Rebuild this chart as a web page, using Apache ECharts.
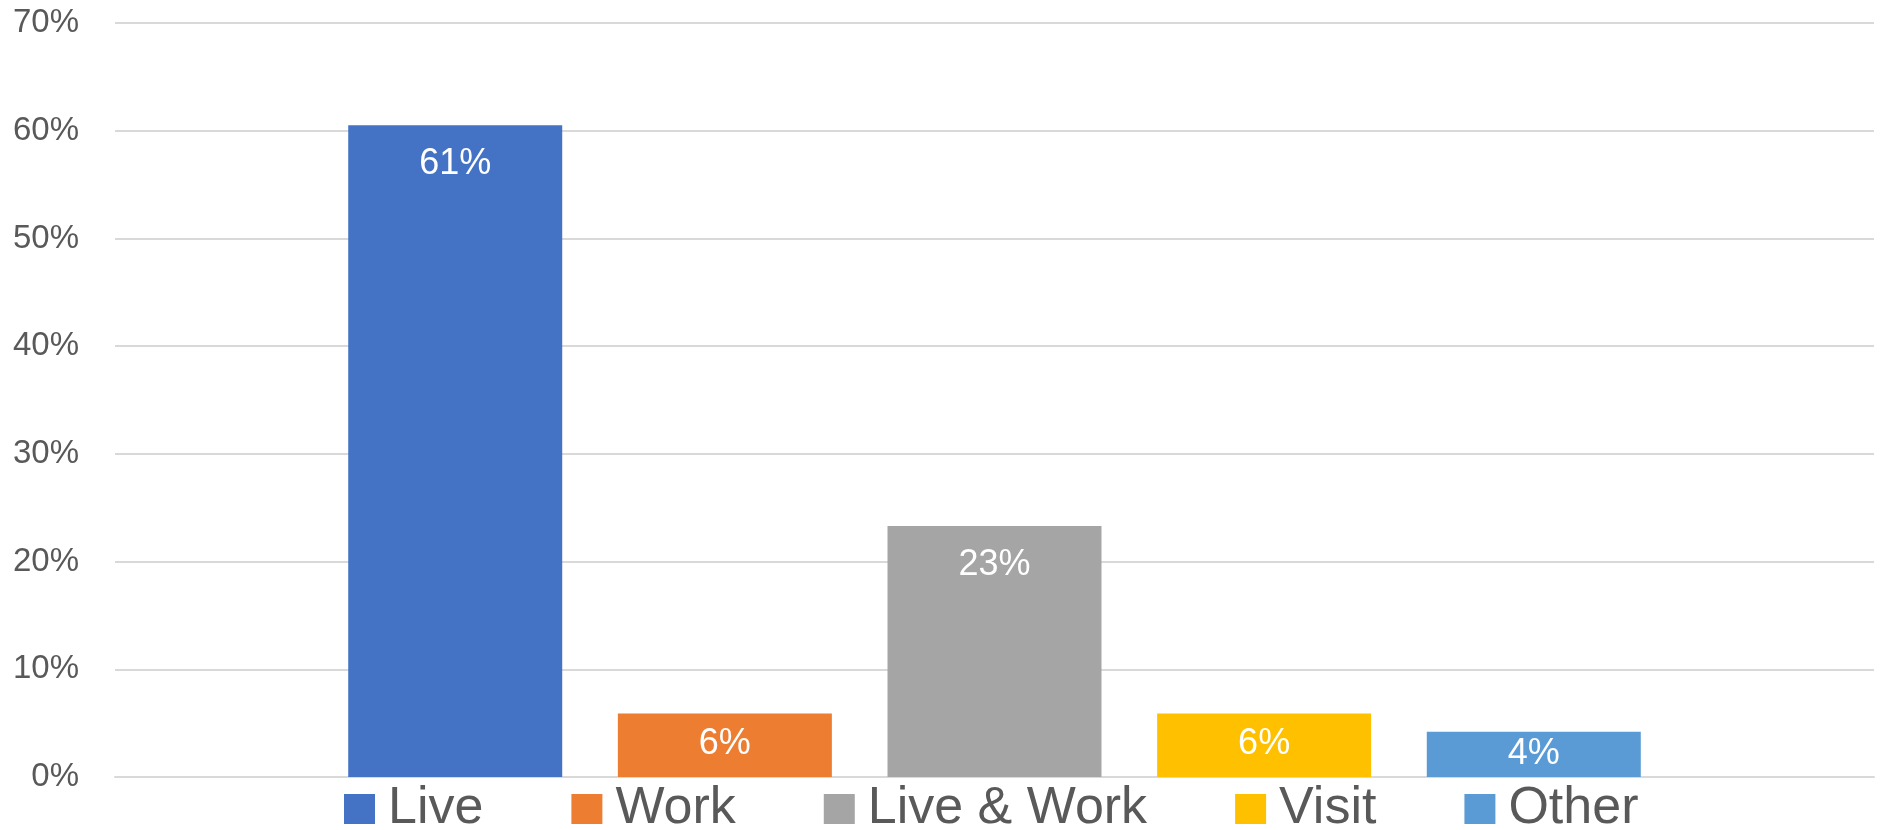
<!DOCTYPE html>
<html>
<head>
<meta charset="utf-8">
<script src="https://cdn.jsdelivr.net/npm/echarts@6/dist/echarts.min.js"></script>
<style>
  html, body { margin: 0; padding: 0; background: #fff; }
  #chart { width: 1881px; height: 830px; }
</style>
</head>
<body>
<div id="chart"></div>
<script>
const seriesNames = ['Live', 'Work', 'Live & Work', 'Visit', 'Other']
const seriesValues = [60.5, 5.9, 23.3, 5.9, 4.2]
const colors = ['#4472C4', '#ED7D31', '#A5A5A5', '#FFC000', '#5B9BD5']
const yTicks = { min: 0, max: 70, interval: 10 }

const font = 'Liberation Sans, Arial, sans-serif'

const myChart = echarts.init(document.getElementById('chart'))

// one category, each group is its own series so the legend lists them
const series = seriesNames.map((name, i) => ({
  name: name,
  type: 'bar',
  data: [seriesValues[i]],
  barWidth: 214,
  barGap: '26%',
  itemStyle: { color: colors[i] },
  label: {
    show: true,
    // short bars get the label centred so it stays inside
    position: seriesValues[i] < 5 ? 'inside' : 'insideTop',
    distance: seriesValues[i] < 10 ? 13 : 21,
    color: '#fff',
    fontFamily: font,
    fontSize: 36,
    formatter: p => Math.round(p.value) + '%'
  }
}))

myChart.setOption({
  animation: false,
  color: colors,
  grid: { left: 115, right: 7, top: 23, bottom: 53 },
  legend: {
    data: seriesNames,
    top: 783,
    left: 344,
    padding: 0,
    itemWidth: 31,
    itemHeight: 30,
    itemGap: 88,
    icon: 'rect',
    textStyle: {
      color: '#595959',
      fontFamily: font,
      fontSize: 52,
      lineHeight: 50,
      padding: [0, 0, 0, 8]
    }
  },
  xAxis: {
    type: 'category',
    data: [''],
    axisLine: { lineStyle: { color: '#d9d9d9', width: 2 } },
    axisTick: { show: false },
    axisLabel: { show: false }
  },
  yAxis: {
    type: 'value',
    min: yTicks.min,
    max: yTicks.max,
    interval: yTicks.interval,
    axisLine: { show: false },
    axisTick: { show: false },
    splitLine: { lineStyle: { color: '#d9d9d9', width: 2 } },
    axisLabel: {
      formatter: '{value}%',
      color: '#595959',
      fontFamily: font,
      fontSize: 33,
      margin: 36
    }
  },
  series: series
})
</script>
</body>
</html>
